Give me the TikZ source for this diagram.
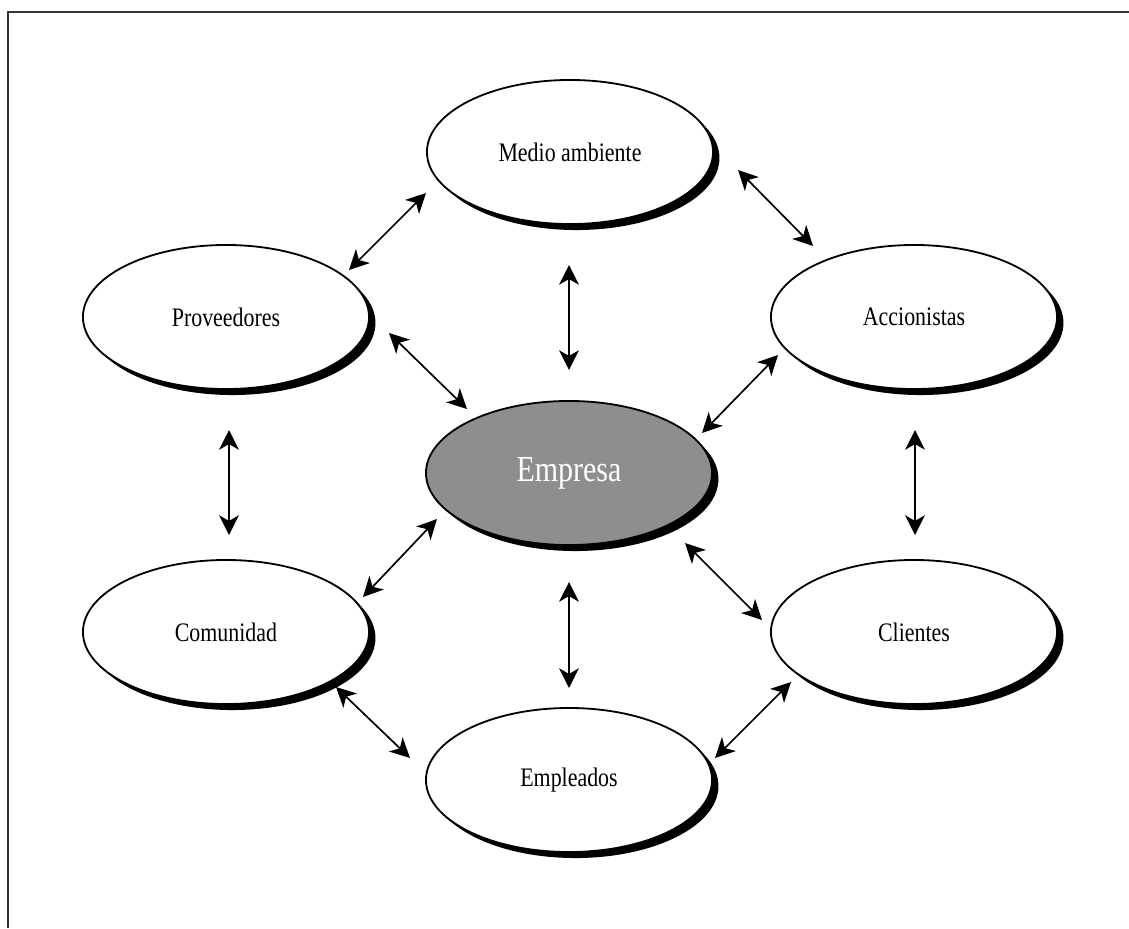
\documentclass[tikz,border=0pt]{standalone}
\usepackage{fontspec}
\setmainfont[FakeStretch=0.82]{Liberation Serif}
\usepackage{tikz}
\usetikzlibrary{shapes.geometric, shadows, arrows.meta}
\definecolor{empgray}{RGB}{142,142,142}

\tikzset{
    grupo/.style={ellipse, draw, line width=1.3pt, fill=white,
        minimum width=7.15cm, minimum height=3.6cm, inner sep=0pt,
        font=\fontsize{19}{22}\selectfont,
        drop shadow={shadow xshift=.16cm, shadow yshift=-.15cm, fill=black, opacity=1}},
    centro/.style={grupo, fill=empgray, text=white, font=\fontsize{26}{30}\selectfont},
    punta/.tip={Stealth[length=14pt, width=14pt, inset=4pt]},
    link/.style={punta-punta, line width=1.2pt},
    marco/.style={line width=1.2pt, draw=black!80},
}

\begin{document}
\begin{tikzpicture}[x=0.025cm, y=-0.025cm]
    \useasboundingbox (0,0) rectangle (1129,928);
    \draw[marco] (8,928) -- (8,12) -- (1129,12);

    \node[grupo]    (medio) at (570,152) {Medio ambiente};
    \node[grupo]    (prov)  at (226,317) {Proveedores};
    \node[grupo]    (acc)   at (914,317) {Accionistas};
    \node[centro]   (emp)   at (569,473) {Empresa};
    \node[grupo]    (com)   at (226,632) {Comunidad};
    \node[grupo]    (cli)   at (914,632) {Clientes};
    \node[grupo]    (empl)  at (569,780) {Empleados};

    % extremos de las flechas
    \coordinate (pm1) at (349,270);  \coordinate (pm2) at (426,193);
    \coordinate (ma1) at (738,170);  \coordinate (ma2) at (813,246);
    \coordinate (me1) at (569,265);  \coordinate (me2) at (569,370);
    \coordinate (pe1) at (389,333);  \coordinate (pe2) at (467,409);
    \coordinate (ae1) at (778,355);  \coordinate (ae2) at (702,433);
    \coordinate (pc1) at (229,430);  \coordinate (pc2) at (229,535);
    \coordinate (ac1) at (915,430);  \coordinate (ac2) at (915,535);
    \coordinate (ec1) at (437,519);  \coordinate (ec2) at (363,597);
    \coordinate (el1) at (685,543);  \coordinate (el2) at (762,620);
    \coordinate (ee1) at (569,582);  \coordinate (ee2) at (569,688);
    \coordinate (ce1) at (336,687);  \coordinate (ce2) at (410,758);
    \coordinate (le1) at (791,682);  \coordinate (le2) at (715,758);

    \path
        (pm1) edge [link] (pm2)
        (ma1) edge [link] (ma2)
        (me1) edge [link] (me2)
        (pe1) edge [link] (pe2)
        (ae1) edge [link] (ae2)
        (pc1) edge [link] (pc2)
        (ac1) edge [link] (ac2)
        (ec1) edge [link] (ec2)
        (el1) edge [link] (el2)
        (ee1) edge [link] (ee2)
        (ce1) edge [link] (ce2)
        (le1) edge [link] (le2)
        ;
\end{tikzpicture}
\end{document}
